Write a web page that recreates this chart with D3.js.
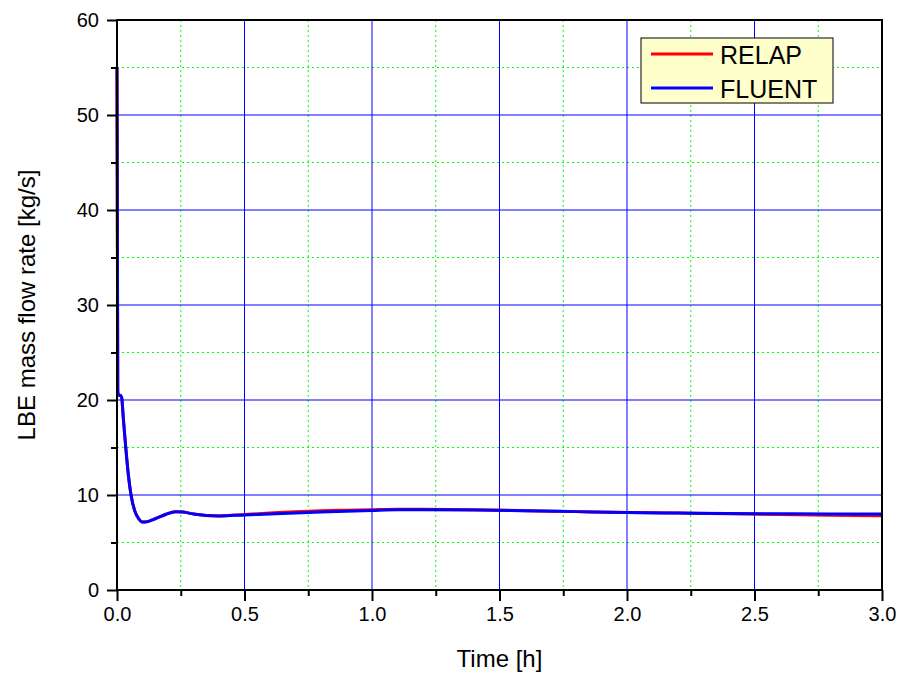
<!DOCTYPE html>
<html lang="en">
<head>
<meta charset="UTF-8">
<title>LBE mass flow rate</title>
<script src="https://cdn.jsdelivr.net/npm/d3@7"></script>
<style>
  body { margin: 0; background: white; }
  svg { font-family: Arial, "Liberation Sans", sans-serif; }
</style>
</head>
<body>
<svg id="chart" width="903" height="679"></svg>
<script>
// data
const relapTime = [0, 0.003, 0.006, 0.012, 0.018, 0.025, 0.035, 0.045, 0.055, 0.07, 0.085, 0.1, 0.12, 0.15, 0.19, 0.23, 0.26, 0.3, 0.35, 0.4, 0.5, 0.6, 0.7, 0.8, 0.9, 1.0, 1.1, 1.2, 1.4, 1.6, 1.8, 2.0, 2.2, 2.4, 2.6, 2.8, 3.0]
const relapFlow = [55, 21, 20.5, 20.5, 20.3, 18, 14.8, 12, 10, 8.3, 7.5, 7.15, 7.2, 7.5, 7.95, 8.25, 8.2, 8.0, 7.85, 7.8, 7.95, 8.1, 8.25, 8.35, 8.4, 8.45, 8.5, 8.5, 8.45, 8.35, 8.25, 8.15, 8.1, 8.02, 7.95, 7.88, 7.8]

const fluentTime = [0, 0.003, 0.006, 0.012, 0.018, 0.025, 0.035, 0.045, 0.055, 0.07, 0.085, 0.1, 0.12, 0.15, 0.19, 0.23, 0.26, 0.3, 0.35, 0.4, 0.5, 0.6, 0.7, 0.8, 0.9, 1.0, 1.1, 1.2, 1.4, 1.6, 1.8, 2.0, 2.2, 2.4, 2.6, 2.8, 3.0]
const fluentFlow = [55, 21, 20.5, 20.5, 20.3, 18, 14.8, 12, 10, 8.3, 7.5, 7.15, 7.2, 7.5, 7.95, 8.25, 8.2, 8.0, 7.85, 7.8, 7.9, 8.0, 8.1, 8.2, 8.3, 8.38, 8.45, 8.45, 8.42, 8.35, 8.25, 8.15, 8.1, 8.05, 8.02, 8.0, 8.0]

const xTicks = [0, 0.5, 1.0, 1.5, 2.0, 2.5, 3.0]
const yTicks = [0, 10, 20, 30, 40, 50, 60]
const legendNames = ["RELAP", "FLUENT"]
const colors = ["#ff0000", "#0000ff"]

const plotL = 117, plotR = 882, plotT = 20, plotB = 590

const svg = d3.select("#chart")

const x = d3.scaleLinear().domain([0, 3]).range([plotL, plotR])
const y = d3.scaleLinear().domain([0, 60]).range([plotB, plotT])

const minorX = d3.range(0.25, 3, 0.5)
const minorY = d3.range(5, 60, 10)

// minor grid (green dotted)
svg.append("g").selectAll("line").data(minorX).join("line")
    .attr("x1", d => x(d)).attr("x2", d => x(d))
    .attr("y1", plotT).attr("y2", plotB)
    .attr("stroke", "#00ff00").attr("stroke-width", 1)
    .attr("stroke-dasharray", "2,3")
svg.append("g").selectAll("line").data(minorY).join("line")
    .attr("x1", plotL).attr("x2", plotR)
    .attr("y1", d => y(d)).attr("y2", d => y(d))
    .attr("stroke", "#00ff00").attr("stroke-width", 1)
    .attr("stroke-dasharray", "2,3")

// major grid (blue)
svg.append("g").selectAll("line").data(xTicks.slice(1, -1)).join("line")
    .attr("x1", d => x(d)).attr("x2", d => x(d))
    .attr("y1", plotT).attr("y2", plotB)
    .attr("stroke", "#0000ff").attr("stroke-width", 1)
svg.append("g").selectAll("line").data(yTicks.slice(1, -1)).join("line")
    .attr("x1", plotL).attr("x2", plotR)
    .attr("y1", d => y(d)).attr("y2", d => y(d))
    .attr("stroke", "#0000ff").attr("stroke-width", 1)

// series
const line = d3.line().x(d => x(d[0])).y(d => y(d[1])).curve(d3.curveMonotoneX)
const series = [d3.zip(relapTime, relapFlow), d3.zip(fluentTime, fluentFlow)]
series.forEach((s, i) => {
    svg.append("path")
        .datum(s)
        .attr("d", line)
        .attr("fill", "none")
        .attr("stroke", colors[i])
        .attr("stroke-width", 3)
        .attr("stroke-linejoin", "round")
})

// axes
svg.append("g")
    .attr("transform", `translate(0,${plotB})`)
    .call(d3.axisBottom(x).tickValues(xTicks).tickFormat(d3.format(".1f")).tickSize(11).tickPadding(6))
svg.append("g")
    .attr("transform", `translate(0,${plotB})`)
    .call(d3.axisBottom(x).tickValues(minorX).tickFormat("").tickSize(6))

svg.append("g")
    .attr("transform", `translate(${plotL},0)`)
    .call(d3.axisLeft(y).tickValues(yTicks).tickFormat(d3.format("d")).tickSize(10).tickPadding(8))
svg.append("g")
    .attr("transform", `translate(${plotL},0)`)
    .call(d3.axisLeft(y).tickValues(minorY).tickFormat("").tickSize(6))

svg.selectAll(".domain").remove()
svg.selectAll(".tick line").attr("stroke", "black").attr("stroke-width", 2)
svg.selectAll(".tick text").attr("font-size", 20).attr("fill", "black")
    .style("font-family", "Arial, 'Liberation Sans', sans-serif")

// frame
svg.append("rect")
    .attr("x", plotL).attr("y", plotT)
    .attr("width", plotR - plotL).attr("height", plotB - plotT)
    .attr("fill", "none").attr("stroke", "black").attr("stroke-width", 2)

// axis titles
svg.append("text")
    .attr("x", (plotL + plotR) / 2).attr("y", 667)
    .attr("text-anchor", "middle").attr("font-size", 24)
    .text("Time [h]")
svg.append("text")
    .attr("transform", `translate(35,${(plotT + plotB) / 2}) rotate(-90)`)
    .attr("text-anchor", "middle").attr("font-size", 24)
    .text("LBE mass flow rate [kg/s]")

// legend
const lg = svg.append("g")
lg.append("rect")
    .attr("x", 641).attr("y", 38).attr("width", 192).attr("height", 65)
    .attr("fill", "#ffffcc").attr("stroke", "black").attr("stroke-width", 1)
legendNames.forEach((name, i) => {
    const ly = 54 + i * 34
    lg.append("line")
        .attr("x1", 651).attr("x2", 713)
        .attr("y1", ly).attr("y2", ly)
        .attr("stroke", colors[i]).attr("stroke-width", 3)
    lg.append("text")
        .attr("x", 720).attr("y", ly + 10)
        .attr("font-size", 25)
        .text(name)
})
</script>
</body>
</html>
